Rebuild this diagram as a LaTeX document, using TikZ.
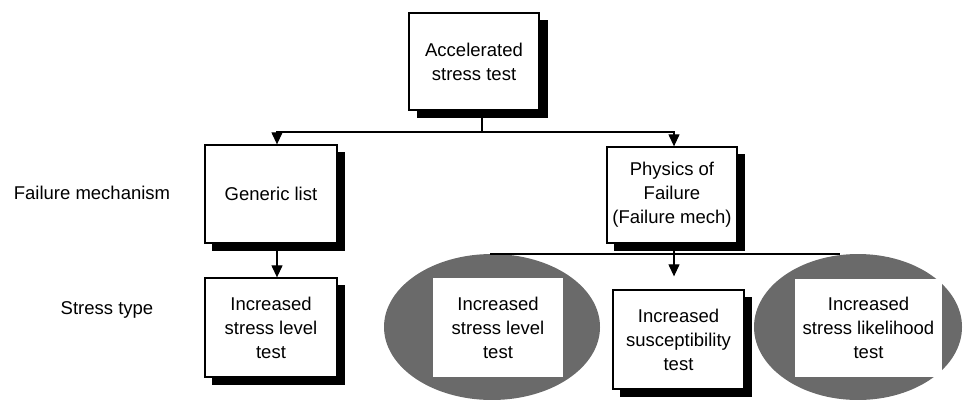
\documentclass[tikz,border=0pt]{standalone}
\usepackage{fontspec}
\setmainfont{Liberation Sans}
\usetikzlibrary{arrows.meta,shapes.geometric}
\definecolor{blobgray}{HTML}{6A6A6A}
\tikzset{
  lbl/.style={font=\fontsize{18.5}{24}\selectfont, align=center, inner sep=0pt},
  sbox/.style={draw=black, line width=1.3pt, fill=white, align=center,
    font=\fontsize{18.5}{24}\selectfont, inner sep=0pt},
  plainbox/.style={fill=white, align=center,
    font=\fontsize{18.5}{24}\selectfont, inner sep=0pt},
  shadow/.style={fill=black},
  blob/.style={ellipse, fill=blobgray, inner sep=0pt},
  conn/.style={line width=1.2pt},
  arr/.style={conn, -{Triangle[length=12pt,width=11pt]}}
}
\begin{document}
\begin{tikzpicture}[x=1pt,y=-1pt]
\useasboundingbox (0,0) rectangle (963,399);

% grey backdrops of the two highlighted tests
\node[blob, minimum width=216, minimum height=146] (e1) at (492,327) {};
\node[blob, minimum width=208, minimum height=146] (e2) at (858,327) {};

% drop shadows
\fill[shadow] (417,20) rectangle (548,118);
\fill[shadow] (212,152) rectangle (345,251);
\fill[shadow] (614,154) rectangle (745,251);
\fill[shadow] (212,285) rectangle (345,385);
\fill[shadow] (620,297) rectangle (752,397);

% boxes
\node[sbox, minimum width=130, minimum height=97] (top) at (474,61.5)
  {Accelerated\\stress test};
\node[sbox, minimum width=132, minimum height=98] (gen) at (271,194)
  {Generic list};
\node[sbox, minimum width=130, minimum height=96] (phys) at (672,195)
  {Physics of\\Failure\\(Failure mech)};
\node[sbox, minimum width=132, minimum height=99] (lvl) at (271,327.5)
  {Increased\\stress level\\test};
\node[plainbox, minimum width=130, minimum height=99] (lvl2) at (498,327.5)
  {Increased\\stress level\\test};
\node[sbox, minimum width=131, minimum height=99] (sus) at (678.5,339.5)
  {Increased\\susceptibility\\test};
\node[plainbox, minimum width=147, minimum height=98] (lik) at (868.5,328)
  {Increased\\stress likelihood\\test};

% row labels
\node[lbl] (fm) at (92,193) {Failure mechanism};
\node[lbl] (st) at (107,310) {Stress type};

% connectors
\coordinate (j1) at (482,132);
\coordinate (j2) at (674,254);
\coordinate (h1) at (490,254);
\coordinate (h2) at (840,254);
\draw[conn] (top.south -| j1) -- (j1);
\draw[arr] (j1) -| ([xshift=6]gen.north);
\draw[arr] (j1) -| ([xshift=2]phys.north);
\draw[arr] ([xshift=6]gen.south) -- ([xshift=6]lvl.north);
\draw[conn] ([xshift=2]phys.south) -- (j2);
\draw[conn] (h1) -- (h2);
\draw[arr, shorten >=13pt] (j2) -- (j2 |- sus.north);
\end{tikzpicture}
\end{document}
